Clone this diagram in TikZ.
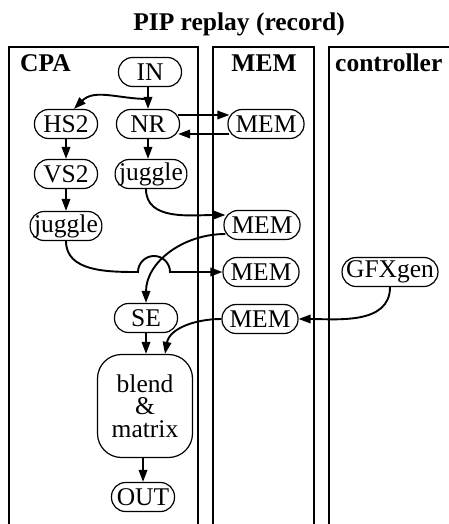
\documentclass[tikz,border=0pt]{standalone}
\usepackage{fontspec}
\setmainfont{Liberation Serif}
\usepackage{tikz}
\usetikzlibrary{arrows.meta}
\tikzset{
  font={\fontsize{25.5pt}{22.5pt}\selectfont}}

\begin{document}
\begin{tikzpicture}[x=1pt,y=1pt]
\tikzstyle{every node}+=[inner sep=0pt]
\tikzstyle{unit}=[draw, line width=1.2pt, rounded corners=14pt, minimum height=29pt, minimum width=63pt, inner xsep=4pt]
\tikzstyle{mem}=[unit, minimum width=76pt]
\tikzstyle{flow}=[line width=1.9pt, -{Triangle[length=12pt,width=8.5pt]}]
\tikzstyle{head}=[font={\fontsize{25.5pt}{22.5pt}\selectfont\bfseries}, anchor=base]
\useasboundingbox (0,0) rectangle (448,-524);
\draw [line width=1.1pt] (9,-524) -- (9,-47) -- (198,-47) -- (198,-524);
\draw [line width=1.1pt] (213,-524) -- (213,-47) -- (314,-47) -- (314,-524);
\draw [line width=1.1pt] (329,-524) -- (329,-47) -- (449,-47);
\node [head] (title) at (239,-31) {PIP replay (record)};
\node [head, anchor=base west] (cpa) at (20,-72) {CPA};
\node [head] (memhead) at (264,-72) {MEM};
\node [head, anchor=base west] (ctrl) at (335,-72) {controller};
\node [unit] (IN) at (150,-72) {IN};
\node [unit] (HS2) at (66,-124) {HS2};
\node [unit] (NR) at (148,-124) {NR};
\node [mem] (MEM1) at (266,-124) {MEM};
\node [unit] (VS2) at (66,-174) {VS2};
\node [unit] (juggleA) at (151,-174) {juggle};
\node [unit] (juggleB) at (66,-226) {juggle};
\node [mem] (MEM2) at (262,-225) {MEM};
\node [mem] (MEM3) at (261,-272) {MEM};
\node [unit] (GFXgen) at (390,-272) {GFXgen};
\node [mem] (MEM4) at (260,-319) {MEM};
\node [unit] (SE) at (146,-318) {SE};
\node [draw, line width=1.2pt, rounded corners=24pt, minimum width=95pt, minimum height=103pt, align=center] (blend) at (145,-406) {blend\\\&\\matrix};
\node [unit] (OUT) at (143,-497) {OUT};
\coordinate (split) at (148,-99);
\coordinate (hop) at (138,-272);
\draw [flow] (IN.south -| NR.north) -- (NR.north);
\draw [flow] (split) to[out=180,in=45] ([xshift=8]HS2.north);
\draw [flow, shorten >=-2pt, shorten <=-2pt] ([yshift=9]NR.east) -- ([yshift=9]NR.east -| MEM1.west);
\draw [flow, shorten >=-2pt, shorten <=-2pt] ([yshift=-10]MEM1.west) -- ([yshift=-10]MEM1.west -| NR.east);
\draw [flow] (HS2) -- (VS2);
\draw [flow] (VS2) -- (juggleB);
\draw [flow] (NR.south) -- (NR.south |- juggleA.north);
\draw [flow, shorten >=-2pt] ([xshift=-5]juggleA.south) to[out=-90,in=180] ([yshift=10]MEM2.west);
\draw [flow, shorten <=-2pt] ([yshift=-9]MEM2.west) to[out=180,in=90] (SE.north);
\draw [flow] (juggleB.south) to[out=-90,in=180] (hop) arc (180:0:16) -- (MEM3.west);
\draw [flow] (GFXgen.south) to[out=-90,in=0] (MEM4.east);
\draw [flow] (MEM4.west) to[out=180,in=80] ([xshift=20]blend.north);
\draw [flow] (SE.south) -- (SE.south |- blend.north);
\draw [flow] (blend.south -| OUT.north) -- (OUT.north);
\end{tikzpicture}
\end{document}
